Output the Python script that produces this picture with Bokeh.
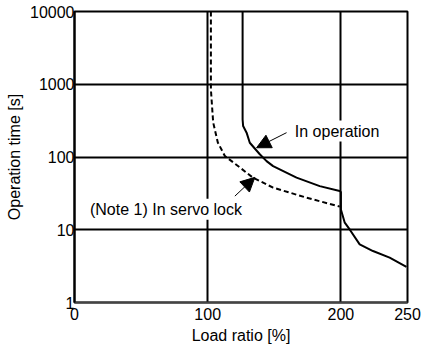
from bokeh.plotting import figure
from bokeh.models import Range1d, FixedTicker, NumeralTickFormatter, Label, Arrow, NormalHead
from bokeh.embed import file_html
from bokeh.resources import INLINE

# Data
x_ticks = [0, 100, 200, 250]
y_ticks = [1, 10, 100, 1000, 10000]

op_load = [126.2, 126.2, 126.6, 129.2, 131.6, 139.1, 144.2, 149.1, 166.7, 184.1, 199.1,
           200.0, 200.0, 202.9, 206.6, 214.1, 224.1, 236.6, 249.2]
op_time = [10000, 328, 266, 216, 157, 109, 87.8, 75, 52, 39.8, 34,
           33, 19, 12.5, 10.1, 6.3, 5.1, 4.14, 3.1]

lock_load = [102.4, 102.4, 104.1, 107.6, 112.9, 124.1, 133.9, 149.1, 174.2, 199.1]
lock_time = [10000, 849, 299, 158, 103, 72, 52, 37.9, 27.6, 20.8]

FONT = "Liberation Sans"

p = figure(width=424, height=347, x_range=Range1d(0, 250), y_range=Range1d(1, 10000),
           y_axis_type="log", output_backend="svg", toolbar_location=None,
           min_border_left=74, min_border_right=17, min_border_top=11, min_border_bottom=45)

p.outline_line_color = "black"
p.outline_line_width = 2
p.background_fill_color = "white"

# grids
p.xgrid.ticker = FixedTicker(ticks=[100, 200])
p.ygrid.ticker = FixedTicker(ticks=[10, 100, 1000])
for g in (p.xgrid, p.ygrid):
    g.grid_line_color = "black"
    g.grid_line_width = 2
    g.grid_line_alpha = 1.0
    g.minor_grid_line_color = None

# axes
p.xaxis.ticker = FixedTicker(ticks=x_ticks)
p.yaxis.ticker = FixedTicker(ticks=y_ticks)
p.yaxis.formatter = NumeralTickFormatter(format="0")
p.xaxis.formatter = NumeralTickFormatter(format="0")
for ax in (p.xaxis, p.yaxis):
    ax.major_tick_in = 0
    ax.major_tick_out = 0
    ax.minor_tick_line_color = None
    ax.major_label_text_font = FONT
    ax.major_label_text_font_size = "16px"
    ax.major_label_text_color = "black"
    ax.axis_label_text_font = FONT
    ax.axis_label_text_font_size = "16px"
    ax.axis_label_text_font_style = "normal"
    ax.axis_label_text_color = "black"
p.yaxis.axis_line_color = "black"
p.yaxis.axis_line_width = 2
p.xaxis.axis_line_color = "#444444"
p.xaxis.axis_line_width = 2
p.xaxis.axis_label = "Load ratio [%]"
p.yaxis.axis_label = "Operation time [s]"
p.yaxis.major_label_standoff = 0
p.yaxis.axis_label_standoff = 4
p.xaxis.major_label_standoff = 5
p.xaxis.axis_label_standoff = 4

# curves
p.line(op_load, op_time, line_color="black", line_width=2)
p.line(lock_load, lock_time, line_color="black", line_width=2, line_dash="5 3")

# annotations
p.add_layout(Label(x=163.9, y=227, text="In operation", text_font=FONT, text_font_size="16px",
                   text_baseline="middle", text_align="left", background_fill_color="white",
                   padding=2, text_color="black"))
p.add_layout(Label(x=10.1, y=19.1, text="(Note 1) In servo lock", text_font=FONT,
                   text_font_size="16px", text_baseline="middle", text_align="left",
                   background_fill_color="white", padding=2, text_color="black"))

p.add_layout(Arrow(x_start=159.2, y_start=216, x_end=136.7, y_end=134, line_width=1,
                   line_color="black",
                   end=NormalHead(size=14, fill_color="black", line_color="black")))
p.add_layout(Arrow(x_start=120.4, y_start=29, x_end=135.4, y_end=52.5, line_width=1,
                   line_color="black",
                   end=NormalHead(size=14, fill_color="black", line_color="black")))

open("out.html", "w").write(file_html(p, INLINE))
